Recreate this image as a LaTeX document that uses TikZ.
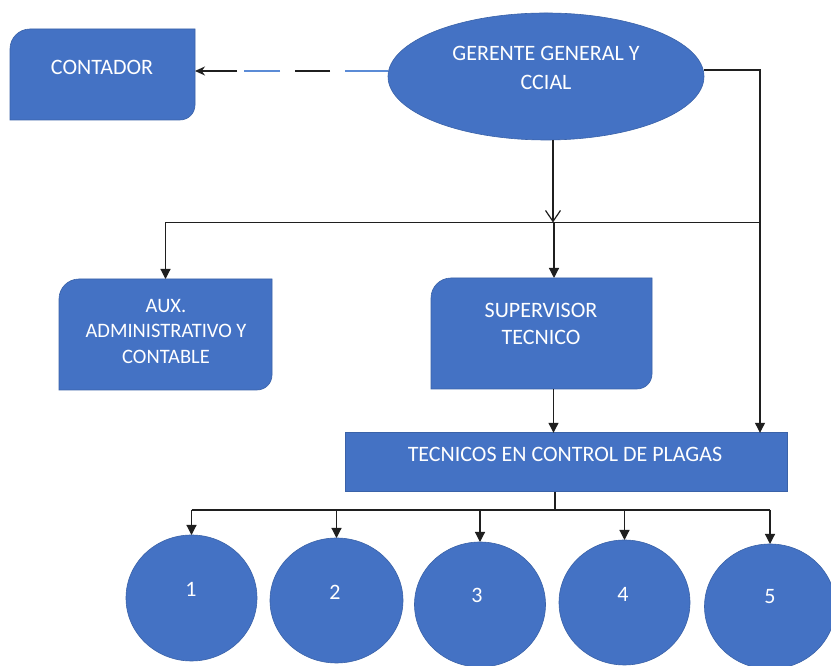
\documentclass[tikz,border=0pt]{standalone}
\usepackage{fontspec}
\setmainfont{Carlito}
\usetikzlibrary{arrows.meta,shapes.geometric,calc}
\definecolor{boxblue}{HTML}{4472C4}
\definecolor{boxedge}{HTML}{3A62A8}
\definecolor{dashblue}{HTML}{5B8BD6}
\newcommand\diagfill[3]{%
  \path[shapefill] let \p1=(#1.south west), \p2=(#1.north east) in
    (\x1,\y1) -- (\x1,\y2-#2pt) arc[start angle=180,end angle=90,radius=#2pt]
    -- (\x2,\y2) -- (\x2,\y1+#3pt) arc[start angle=0,end angle=-90,radius=#3pt] -- cycle;}
\begin{document}
\begin{tikzpicture}[x=1pt,y=1pt,
  shapefill/.style={fill=boxblue,draw=boxedge,line width=0.6pt},
  boxgeom/.style={rectangle,inner sep=0pt,outer sep=0pt},
  ovalnode/.style={ellipse,shapefill,inner sep=0pt,outer sep=0pt},
  lbl/.style={text=white,align=center,inner sep=0pt,font=\fontsize{22}{27}\selectfont},
  conn/.style={line width=1.2pt,draw=black!88},
  arr/.style={conn,-{Triangle[length=10pt,width=10pt]}},
  openarr/.style={conn,-{Straight Barb[length=11pt,width=15pt]}}]
\useasboundingbox (0,0) rectangle (831,666);
\fill[white] (0,0) rectangle (831,666);

% geometry nodes
\node[boxgeom,minimum width=185pt,minimum height=91pt] (contador) at (102.5,591.5) {};
\node[ovalnode,minimum width=316pt,minimum height=127pt] (gerente) at (546,589.5) {};
\node[boxgeom,minimum width=213pt,minimum height=111pt] (aux) at (165.5,331.5) {};
\node[boxgeom,minimum width=221pt,minimum height=111pt] (supervisor) at (541.5,332.5) {};
\node[boxgeom,shapefill,minimum width=442pt,minimum height=59pt] (tecnicos) at (566,203.7) {};
\node[ovalnode,minimum width=131pt,minimum height=126pt] (c1) at (191.5,68) {};
\node[ovalnode,minimum width=133pt,minimum height=125pt] (c2) at (336.5,65.5) {};
\node[ovalnode,minimum width=131pt,minimum height=125pt] (c3) at (480,61.5) {};
\node[ovalnode,minimum width=131pt,minimum height=125pt] (c4) at (624.5,63.5) {};
\node[ovalnode,minimum width=131pt,minimum height=125pt] (c5) at (770,59.5) {};

\diagfill{contador}{20}{15}
\diagfill{aux}{20}{15}
\diagfill{supervisor}{20}{15}

% texts
\node[lbl] (contadorT) at (102,599) {CONTADOR};
\node[lbl,font=\fontsize{22}{29}\selectfont] (gerenteT) at (546,598.5) {GERENTE GENERAL Y\\CCIAL};
\node[lbl,font=\fontsize{20.5}{25.5}\selectfont] (auxT) at (166,334.5) {AUX.\\ADMINISTRATIVO Y\\CONTABLE};
\node[lbl] (supT) at (541,342.5) {SUPERVISOR\\TECNICO};
\node[lbl] (tecT) at (565,212) {TECNICOS EN CONTROL DE PLAGAS};
\node[lbl] (d1) at (191,77) {1};
\node[lbl] (d2) at (335,74) {2};
\node[lbl] (d3) at (477,71) {3};
\node[lbl] (d4) at (623,72) {4};
\node[lbl] (d5) at (770,69) {5};

% connectors
\coordinate (dstart) at ([yshift=5.5pt]gerente.west);
\draw[line width=1.2pt,draw=dashblue,dash pattern=on 43pt off 65pt on 36pt off 300pt]
  (dstart) -- (contador.east |- dstart);
\draw[line width=1.2pt,draw=black!88,dash pattern=on 0pt off 58pt on 35pt off 58pt on 300pt,
  -{Stealth[length=10pt,width=9pt]}] (dstart) -- (contador.east |- dstart);

\coordinate (rbus) at (760,443.5);
\coordinate (sbus) at (554,443.5);
\coordinate (sx) at (553.5,0);
\coordinate (bbus) at (555,156);

\draw[arr] ([yshift=6.5pt]gerente.east) -| (tecnicos.north -| rbus);
\draw[conn] (aux.north |- rbus) -- (rbus);
\draw[openarr] ([xshift=7pt]gerente.south) -- ([xshift=7pt]gerente.south |- rbus);
\draw[arr] (aux.north |- rbus) -- (aux.north);
\draw[arr] (sbus) -- (sbus |- supervisor.north);
\draw[arr] (sx |- supervisor.south) -- (sx |- tecnicos.north);

\draw[conn] (tecnicos.south -| bbus) -- (bbus);
\draw[conn] (c1.north |- bbus) -- (c5.north |- bbus);
\foreach \c in {c1,c2,c3,c4,c5}
  \draw[arr] (\c.north |- bbus) -- (\c.north);
\end{tikzpicture}
\end{document}
